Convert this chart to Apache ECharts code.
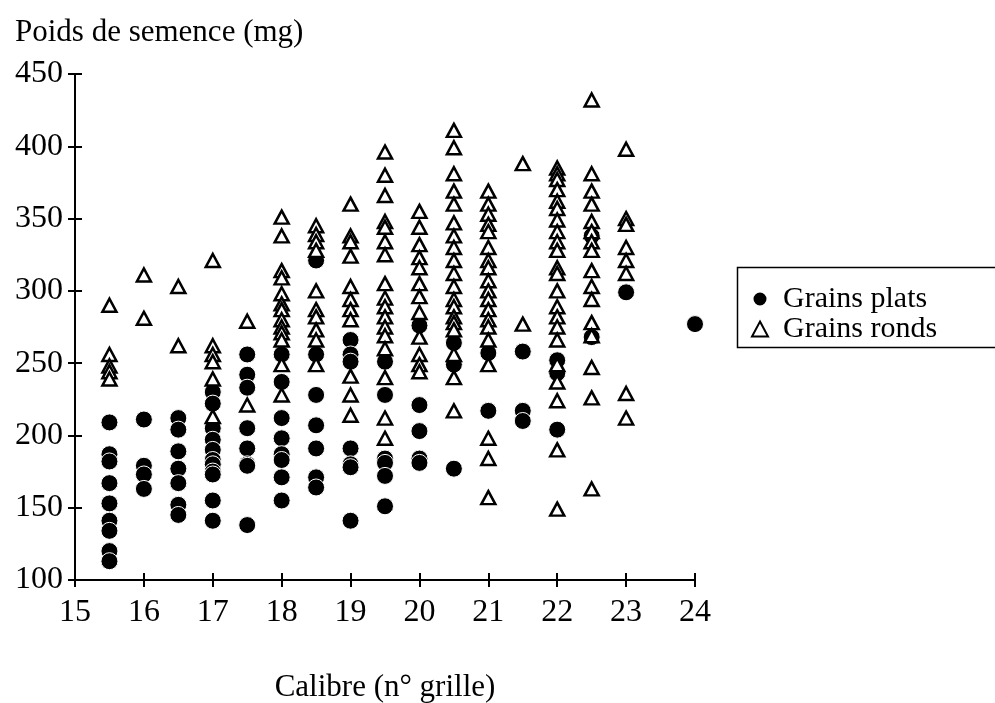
<!DOCTYPE html>
<html>
<head>
<meta charset="utf-8">
<script src="https://cdn.jsdelivr.net/npm/echarts@6/dist/echarts.min.js"></script>
<style>
  html, body { margin: 0; padding: 0; background: #fff; }
  #chart { width: 995px; height: 703px; }
</style>
</head>
<body>
<div id="chart"></div>
<script>
// calibre (n° grille) -> seed weights (mg)
const platsCols = [15.5, 16, 16.5, 17, 17.5, 18, 18.5, 19, 19.5, 20, 20.5, 21, 21.5, 22, 22.5, 23, 24]
const platsVals = [
  [209, 187, 182, 167, 153, 141, 134, 120, 113],
  [211, 179, 173, 163],
  [212, 204, 189, 177, 167, 152, 145],
  [230, 222, 205, 197, 190, 183, 180, 175, 173, 155, 141],
  [256, 242, 233, 205, 191, 180, 179, 138],
  [256, 237, 212, 198, 187, 183, 171, 155],
  [321, 256, 228, 207, 191, 171, 164],
  [266, 256, 251, 191, 180, 178, 141],
  [251, 228, 184, 181, 172, 151],
  [276, 221, 203, 184, 181],
  [264, 249, 177],
  [257, 217],
  [258, 217, 210],
  [252, 243, 204],
  [338, 268],
  [299],
  [277]
]

const rondsCols = [15.5, 16, 16.5, 17, 17.5, 18, 18.5, 19, 19.5, 20, 20.5, 21, 21.5, 22, 22.5, 23]
const rondsVals = [
  [290, 256, 248, 244, 239],
  [311, 281],
  [303, 262],
  [321, 262, 256, 251, 239, 213],
  [279, 221],
  [351, 338, 314, 309, 298, 291, 287, 280, 275, 271, 266, 249, 228],
  [345, 339, 334, 328, 300, 287, 282, 273, 266, 249],
  [360, 338, 334, 324, 303, 294, 287, 280, 241, 228, 214],
  [396, 380, 366, 348, 344, 334, 325, 305, 295, 289, 282, 275, 269, 260, 240, 212, 198],
  [355, 344, 332, 323, 316, 305, 296, 285, 268, 256, 249, 244],
  [411, 399, 381, 369, 360, 347, 338, 330, 321, 312, 303, 294, 289, 282, 278, 273, 256, 240, 217],
  [369, 360, 353, 346, 341, 330, 321, 316, 307, 300, 294, 287, 280, 275, 266, 249, 198, 184, 157],
  [388, 277],
  [385, 381, 377, 370, 362, 357, 349, 341, 334, 328, 316, 312, 300, 289, 282, 275, 266, 249, 237, 224, 190, 149],
  [432, 381, 369, 360, 348, 341, 334, 328, 314, 303, 294, 278, 269, 247, 226, 163],
  [398, 350, 346, 330, 321, 312, 229, 212]
]

const xMin = 15, xMax = 24, xStep = 1
const yMin = 100, yMax = 450, yStep = 50

function toPoints (cols, vals) {
  const pts = []
  cols.forEach((c, i) => vals[i].forEach(v => pts.push([c, v])))
  return pts
}

const serif = '"Liberation Serif", "DejaVu Serif", serif'
const chart = echarts.init(document.getElementById('chart'))

const axisBase = {
  type: 'value',
  splitLine: { show: false },
  axisLine: { show: true, onZero: false, lineStyle: { color: '#000', width: 2 } },
  axisTick: { show: true, length: 7, lineStyle: { color: '#000', width: 2 } }
}

chart.setOption({
  animation: false,
  backgroundColor: '#fff',
  textStyle: { fontFamily: serif, color: '#000' },
  title: {
    text: 'Poids de semence (mg)',
    left: 10,
    top: 12,
    textStyle: { fontFamily: serif, fontSize: 31, fontWeight: 'normal', color: '#000' }
  },
  grid: { left: 75, right: 300, top: 74, bottom: 123, containLabel: false, outerBoundsMode: 'none' },
  legend: {
    orient: 'vertical',
    left: 746,
    top: 279,
    itemGap: 0,
    itemWidth: 16,
    itemHeight: 15,
    textStyle: { fontFamily: serif, fontSize: 30, color: '#000', padding: [0, 0, 0, 10] },
    data: ['Grains plats', 'Grains ronds']
  },
  graphic: [{
    type: 'rect',
    left: 735,
    top: 265,
    shape: { width: 300, height: 80 },
    style: { fill: 'none', stroke: '#000', lineWidth: 1.5 }
  }],
  xAxis: [
    Object.assign({}, axisBase, {
      min: xMin, max: xMax, interval: xStep,
      name: 'Calibre (n° grille)',
      nameLocation: 'middle',
      nameGap: 92,
      nameTextStyle: { fontFamily: serif, fontSize: 31, color: '#000' },
      axisLabel: { margin: 17, fontFamily: serif, fontSize: 32, color: '#000' }
    }),
    Object.assign({}, axisBase, {
      min: xMin, max: xMax, interval: xStep,
      position: 'bottom',
      axisLine: { show: false },
      axisTick: { show: true, inside: true, length: 7, lineStyle: { color: '#000', width: 2 } },
      axisLabel: { show: false }
    })
  ],
  yAxis: [
    Object.assign({}, axisBase, {
      min: yMin, max: yMax, interval: yStep,
      axisLabel: { margin: 12, fontFamily: serif, fontSize: 32, color: '#000' }
    }),
    Object.assign({}, axisBase, {
      min: yMin, max: yMax, interval: yStep,
      position: 'left',
      axisLine: { show: false },
      axisTick: { show: true, inside: true, length: 7, lineStyle: { color: '#000', width: 2 } },
      axisLabel: { show: false }
    })
  ],
  series: [
    {
      name: 'Grains plats',
      type: 'scatter',
      symbol: 'circle',
      symbolSize: 17,
      itemStyle: { color: '#000', borderColor: '#fff', borderWidth: 1, opacity: 1 },
      data: toPoints(platsCols, platsVals)
    },
    {
      name: 'Grains ronds',
      type: 'scatter',
      symbol: 'triangle',
      symbolSize: [14, 13],
      itemStyle: { color: '#fff', borderColor: '#000', borderWidth: 2.5, opacity: 1 },
      data: toPoints(rondsCols, rondsVals)
    }
  ]
})
</script>
</body>
</html>
